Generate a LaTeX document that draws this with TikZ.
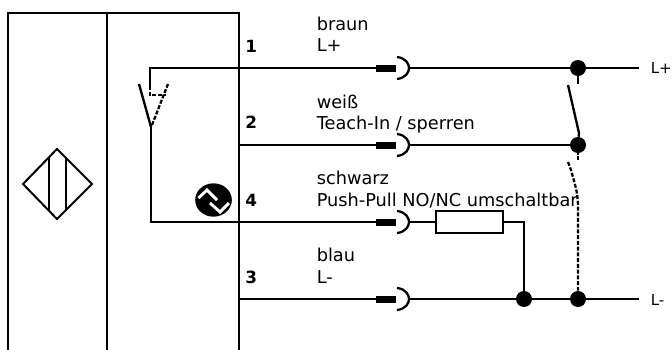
\documentclass[tikz,border=0pt]{standalone}
\usepackage{fontspec}
\setmainfont{DejaVu Sans}
\usetikzlibrary{shapes.geometric}
\tikzset{
  x=0.75pt,y=-0.75pt,
  frame/.style={line width=1.6pt,black},
  wire/.style={line width=1.75pt,black},
  dot/.style={circle,fill=black,inner sep=0pt,minimum size=12pt},
  plug/.style={fill=black,draw=none},
  lbl/.style={anchor=base west,inner sep=0pt,font=\fontsize{13.3pt}{16pt}\selectfont},
  rlbl/.style={anchor=base west,inner sep=0pt,font=\fontsize{11.3pt}{14pt}\selectfont},
  pin/.style={anchor=base west,inner sep=0pt,font=\fontsize{12.6pt}{15pt}\selectfont\bfseries},
  swdash/.style={line width=1.7pt,dash pattern=on 3pt off 1.3pt},
}
\begin{document}
\begin{tikzpicture}
\useasboundingbox (0,0) rectangle (672,350);
\draw[frame] (8,350) -- (8,13) -- (239,13) -- (239,350);
\draw[frame] (107,13) -- (107,350);
% sensor symbol
\draw[line width=1.5pt,line join=miter] (23,184) -- (57,149) -- (92,184) -- (57,219) -- cycle;
\draw[line width=1.5pt] (49,158) -- (49,210) (66,158) -- (66,210);
% pins
\node[pin] (p1) at (245,52) {1};
\node[pin] (p2) at (245,128) {2};
\node[pin] (p4) at (245,206) {4};
\node[pin] (p3) at (245,283) {3};
% labels
\node[lbl] (t1) at (316.5,30) {braun};
\node[lbl] (t1b) at (316.5,51) {L+};
\node[lbl] (t2) at (316.5,108) {weiß};
\node[lbl] (t2b) at (316.5,129) {Teach-In / sperren};
\node[lbl] (t4) at (316.5,184) {schwarz};
\node[lbl] (t4b) at (316.5,206) {Push-Pull NO/NC umschaltbar};
\node[lbl] (t3) at (316.5,261) {blau};
\node[lbl] (t3b) at (316.5,283) {L-};
\node[rlbl] (lp) at (650.5,73) {L+};
\node[rlbl] (lm) at (650.5,305) {L-};
% internal wiring
\coordinate (c1) at (378,68);
\coordinate (c2) at (378,145);
\coordinate (c4) at (378,222);
\coordinate (c3) at (378,299);
\draw[wire] (150,86) -- (150,68) -- (c1);
\draw[wire] (239,145) -- (c2);
\draw[wire] (151,127) -- (151,222) -- (c4);
\draw[wire] (239,299) -- (c3);
% switch
\draw[wire] (139,84) -- (151,127);
\draw[swdash] (152,125) -- (168,84);
\draw[swdash] (150,86) -- (150,95) -- (166,95);
% plugs
\foreach \y/\n in {68/a,145/b,222/c,299/d}{
  \fill[plug] (376,\y-3.5) rectangle (396,\y+3.5);
  \draw[line width=1.7pt] (397,\y-11) .. controls (406,\y-10) and (409,\y-4) .. (409,\y) .. controls (409,\y+4) and (406,\y+10) .. (397,\y+11);
}
% right side wires
\node[dot] (d1) at (578,68) {};
\node[dot] (d2) at (578,145) {};
\node[dot] (d3) at (524,299) {};
\node[dot] (d4) at (578,299) {};
\coordinate (e1) at (409,68);
\coordinate (e2) at (409,145);
\coordinate (e4) at (409,222);
\coordinate (e3) at (409,299);
\coordinate (r1) at (639,68);
\coordinate (r3) at (639,299);
\draw[wire] (e1) -- (d1) -- (r1);
\draw[wire] (e2) -- (d2);
\draw[wire] (e3) -- (d3) -- (d4) -- (r3);
\node[draw=black,line width=1.6pt,fill=white,minimum width=50pt,minimum height=16.5pt,inner sep=0pt,anchor=center] (R) at (469.5,222) {};
\draw[wire] (e4) -- (R.west);
\draw[wire] (R.east) -- (524,222) -- (d3);
% external switch
\draw[wire] (578,68) -- (578,84);
\draw[wire] (568,85) -- (579,133) -- (d2);
\draw[swdash] (578,145) -- (578,162);
\draw[swdash] (568,162) -- (571,170) .. controls (575,185) and (578,192) .. (578,208) -- (d4);
% trigger symbol
\node[ellipse,fill=black,inner sep=0pt,minimum width=27.5pt,minimum height=25pt] (sym) at (213.5,200) {};
\draw[white,line width=2.2pt] (198.5,198) -- (207,190) -- (217,200);
\draw[white,line width=2.2pt] (210,203) -- (220,212) -- (229,203);
\end{tikzpicture}
\end{document}
